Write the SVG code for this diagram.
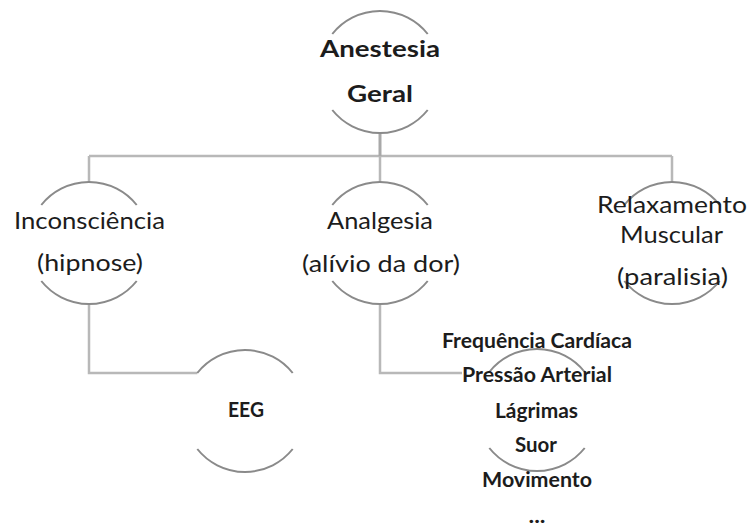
<svg xmlns="http://www.w3.org/2000/svg" width="749" height="523" viewBox="0 0 749 523">
<style>
.arc{fill:none;stroke:#8a8a8a;stroke-width:2}
.con{fill:none;stroke:#b8b8b8;stroke-width:2.5}
.t{font-family:Lato,"Liberation Sans",sans-serif;fill:#1c1c1c;text-anchor:middle}
.r{font-size:23px}
.b{font-weight:bold}
.bt{font-size:22px}
.bl{font-size:20px}
</style>
<rect width="749" height="523" fill="#ffffff"/>
<g id="connectors">
<path class="con" d="M89 156 H672"/>
<path class="con" d="M380 133 V156" style="stroke:#a8a8a8;stroke-width:3"/>
<path class="con" d="M89 156 V182 M380 156 V182 M672 156 V182"/>
<path class="con" d="M89 304 V373 H197.3"/>
<path class="con" d="M380 304 V373 H462"/>
</g>
<g id="n-anestesia">
<path class="arc" d="M332.3 34 A61 61 0 0 1 427.7 34 M332.3 110 A61 61 0 0 0 427.7 110"/>
<text class="t b bt" x="380" y="57" textLength="120" lengthAdjust="spacingAndGlyphs">Anestesia</text>
<text class="t b bt" x="380" y="102" textLength="66" lengthAdjust="spacingAndGlyphs">Geral</text>
</g>
<g id="n-inconsciencia">
<path class="arc" d="M41.3 205 A61 61 0 0 1 136.7 205 M41.3 281 A61 61 0 0 0 136.7 281"/>
<text class="t r" x="89.5" y="229" textLength="151" lengthAdjust="spacingAndGlyphs">Inconsciência</text>
<text class="t r" x="90" y="271" textLength="106" lengthAdjust="spacingAndGlyphs">(hipnose)</text>
</g>
<g id="n-analgesia">
<path class="arc" d="M332.3 205 A61 61 0 0 1 427.7 205 M332.3 281 A61 61 0 0 0 427.7 281"/>
<text class="t r" x="380" y="229" textLength="106" lengthAdjust="spacingAndGlyphs">Analgesia</text>
<text class="t r" x="381" y="272" textLength="158" lengthAdjust="spacingAndGlyphs">(alívio da dor)</text>
</g>
<g id="n-relaxamento">
<path class="arc" d="M624.3 205 A61 61 0 0 1 719.7 205 M624.3 281 A61 61 0 0 0 719.7 281"/>
<text class="t r" x="672" y="213" textLength="150" lengthAdjust="spacingAndGlyphs">Relaxamento</text>
<text class="t r" x="671.5" y="243" textLength="103" lengthAdjust="spacingAndGlyphs">Muscular</text>
<text class="t r" x="672.5" y="285" textLength="111" lengthAdjust="spacingAndGlyphs">(paralisia)</text>
</g>
<g id="n-eeg">
<path class="arc" d="M197.3 373 A61 61 0 0 1 292.7 373 M197.3 449 A61 61 0 0 0 292.7 449"/>
<text class="t b bl" x="246" y="417" textLength="36" lengthAdjust="spacingAndGlyphs">EEG</text>
</g>
<g id="n-sinais">
<path class="arc" d="M489.3 372 A61 61 0 0 1 584.7 372 M489.3 448 A61 61 0 0 0 584.7 448"/>
<text class="t b bl" x="537" y="348" textLength="190" lengthAdjust="spacingAndGlyphs">Frequência Cardíaca</text>
<text class="t b bl" x="537" y="382" textLength="150" lengthAdjust="spacingAndGlyphs">Pressão Arterial</text>
<text class="t b bl" x="536.5" y="418" textLength="83" lengthAdjust="spacingAndGlyphs">Lágrimas</text>
<text class="t b bl" x="536" y="452" textLength="42" lengthAdjust="spacingAndGlyphs">Suor</text>
<text class="t b bl" x="537" y="487" textLength="110" lengthAdjust="spacingAndGlyphs">Movimento</text>
<text class="t b bl" x="537" y="523" textLength="17" lengthAdjust="spacingAndGlyphs">...</text>
</g>
</svg>
